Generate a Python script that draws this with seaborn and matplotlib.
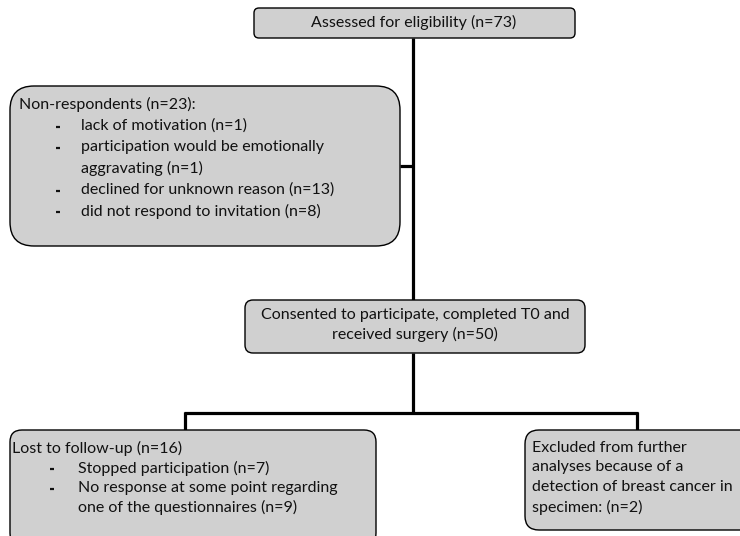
import matplotlib
matplotlib.use("Agg")
import matplotlib.pyplot as plt
import seaborn as sns
from matplotlib.patches import FancyBboxPatch

sns.set_theme(style="white")
plt.rcParams['font.family'] = ['Lato', 'DejaVu Sans']

# flow numbers
n_assessed = 73
n_consented = 50

nonresp_reasons = ["lack of motivation",
                   "participation would be emotionally\naggravating",
                   "declined for unknown reason",
                   "did not respond to invitation"]
nonresp_counts = [1, 1, 13, 8]

lost_reasons = ["Stopped participation",
                "No response at some point regarding\none of the questionnaires"]
lost_counts = [7, 9]

n_excluded = 2

FILL = '#d0d0d0'
FS = 11.5
LW = 2.3

fig = plt.figure(figsize=(7.4, 5.36), dpi=100)
ax = fig.add_axes([0, 0, 1, 1])
ax.set_xlim(0, 740)
ax.set_ylim(536, 0)
ax.axis('off')


def box(x0, y0, x1, y1, r):
    p = FancyBboxPatch((x0, y0), x1 - x0, y1 - y0,
                       boxstyle=f"round,pad=0,rounding_size={r}",
                       fc=FILL, ec='black', lw=1.0, zorder=2)
    ax.add_patch(p)


def line(xs, ys):
    ax.plot(xs, ys, color='black', lw=LW, zorder=1, solid_capstyle='butt')


def dash(x, y):
    ax.plot([x, x + 4], [y + 1, y + 1], color='#111111', lw=1.6, zorder=3,
            solid_capstyle='butt')


# connectors
line([413, 413], [38, 300])
line([400, 413], [166, 166])
line([413, 413], [353, 413])
line([184, 638], [413, 413])
line([185, 185], [412, 430])
line([637, 637], [412, 430])

# boxes
box(254, 8, 575, 38, 5)
box(10, 86, 400, 246, 24)
box(245, 300, 585, 353, 8)
box(10, 430, 376, 545, 12)
box(525, 430, 760, 530, 14)

ax.text(414, 22, f"Assessed for eligibility (n={n_assessed})",
        ha='center', va='center', fontsize=FS, color='#111111', zorder=3)

ax.text(19, 104, f"Non-respondents (n={sum(nonresp_counts)}):",
        ha='left', va='center', fontsize=FS, color='#111111', zorder=3)
y = 126
for reason, c in zip(nonresp_reasons, nonresp_counts):
    dash(56, y)
    label = f"{reason} (n={c})"
    nlines = label.count("\n") + 1
    yc = y + 21.3 * (nlines - 1) / 2
    ax.text(81, yc, label, ha='left', va='center', fontsize=FS,
            color='#111111', linespacing=1.52, zorder=3)
    y += 21.3 * nlines

ax.text(415, 325, f"Consented to participate, completed T0 and\nreceived surgery (n={n_consented})",
        ha='center', va='center', fontsize=FS, color='#111111',
        linespacing=1.47, zorder=3)

ax.text(12, 448, f"Lost to follow-up (n={sum(lost_counts)})",
        ha='left', va='center', fontsize=FS, color='#111111', zorder=3)
y = 468
for reason, c in zip(lost_reasons, lost_counts):
    dash(50, y)
    label = f"{reason} (n={c})"
    nlines = label.count("\n") + 1
    yc = y + 20 * (nlines - 1) / 2
    ax.text(78, yc, label, ha='left', va='center', fontsize=FS,
            color='#111111', linespacing=1.45, zorder=3)
    y += 20 * nlines

ax.text(532, 478, "Excluded from further\nanalyses because of a\n"
        f"detection of breast cancer in\nspecimen: (n={n_excluded})",
        ha='left', va='center', fontsize=FS, color='#111111',
        linespacing=1.5, zorder=3)

fig.savefig('out.png', dpi=100)
